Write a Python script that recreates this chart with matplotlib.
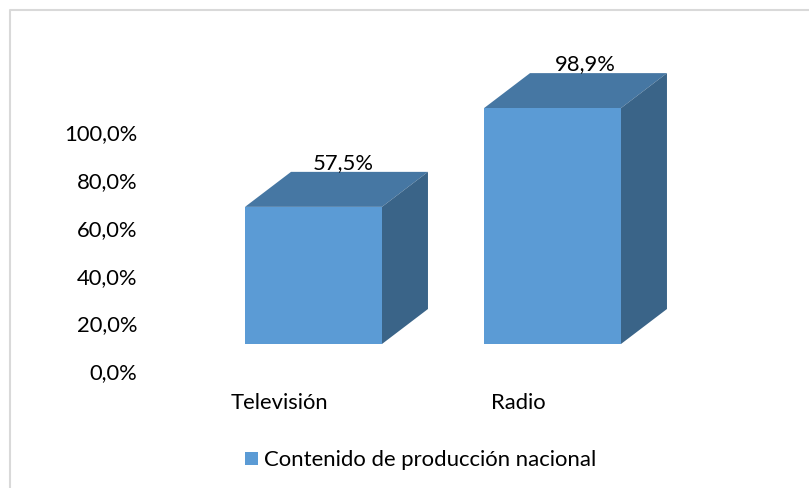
import matplotlib
matplotlib.use("Agg")
import matplotlib.pyplot as plt
from matplotlib.patches import Polygon, Rectangle
from matplotlib.transforms import ScaledTranslation

plt.rcParams['font.family'] = ['Lato', 'DejaVu Sans']

# datos
categorias = ["Televisión", "Radio"]
valores = [57.5, 98.9]
etiquetas = ["57,5%", "98,9%"]
ticks = [0, 20, 40, 60, 80, 100]
ticks_txt = ["0,0%", "20,0%", "40,0%", "60,0%", "80,0%", "100,0%"]
serie = "Contenido de producción nacional"

W, H = 809, 488
fig = plt.figure(figsize=(W/100, H/100), dpi=100)
fig.patch.set_facecolor("white")

# marco exterior: solo se ve arriba y a la izquierda
fig.add_artist(plt.Line2D([10/W, 10/W, 1], [0, 1-10/H, 1-10/H], transform=fig.transFigure,
                          color="#d9d9d9", lw=1.5))

# ejes: y=0 cae en el pixel 344 y 100 en el 105.5
x0, x1 = 194, 672
y0, y1 = 344, 105.5
ax = fig.add_axes([x0/W, 1-y0/H, (x1-x0)/W, (y0-y1)/H])
ax.patch.set_alpha(0)
ax.set_xlim(-0.5, 1.5)
ax.set_ylim(0, 100)
for s in ax.spines.values():
    s.set_visible(False)

ancho = 0.573
dx = 46/239   # profundidad en unidades de categoria
dy = 35/2.385 # profundidad en unidades de %
desp = [0.125, 0.138] # corrimiento de cada etiqueta sobre la cara superior

pos = list(range(len(categorias)))
ax.bar(pos, valores, width=ancho, color="#5b9bd5", zorder=3, clip_on=False)

for i, v in zip(pos, valores):
    l, r = i-ancho/2, i+ancho/2
    ax.add_patch(Polygon([(l, v), (r, v), (r+dx, v+dy), (l+dx, v+dy)], fc="#4677a3", ec="none", clip_on=False))
    ax.add_patch(Polygon([(r, 0), (r+dx, dy), (r+dx, v+dy), (r, v)], fc="#3a6488", ec="none", clip_on=False))

for i, v, t, d in zip(pos, valores, etiquetas, desp):
    ax.annotate(t, (i+d, v+dy), xytext=(0, -1), textcoords="offset points",
                ha="center", va="bottom", fontsize=15.8, color="black", zorder=5,
                annotation_clip=False)

# las etiquetas van desplazadas respecto a la base de las barras
ax.set_yticks(ticks)
ax.set_yticklabels(ticks_txt, fontsize=15.8)
ax.set_xticks(pos)
ax.set_xticklabels(categorias, fontsize=15.8)
ax.tick_params(axis="y", length=0, pad=41)
ax.tick_params(axis="x", length=0, pad=5)
off_y = ScaledTranslation(0, -27/100, fig.dpi_scale_trans)
for lb in ax.get_yticklabels():
    lb.set_transform(lb.get_transform() + off_y)
off_x = ScaledTranslation(-34/100, -42/100, fig.dpi_scale_trans)
for lb in ax.get_xticklabels():
    lb.set_transform(lb.get_transform() + off_x)

# leyenda
fig.add_artist(Rectangle((245/W, 1-465/H), 13/W, 13/H, transform=fig.transFigure, fc="#5b9bd5", ec="none"))
fig.text(264/W, 1-459.5/H, serie, fontsize=15.95, va="center", ha="left", color="black")

fig.savefig("out.png", dpi=100)
